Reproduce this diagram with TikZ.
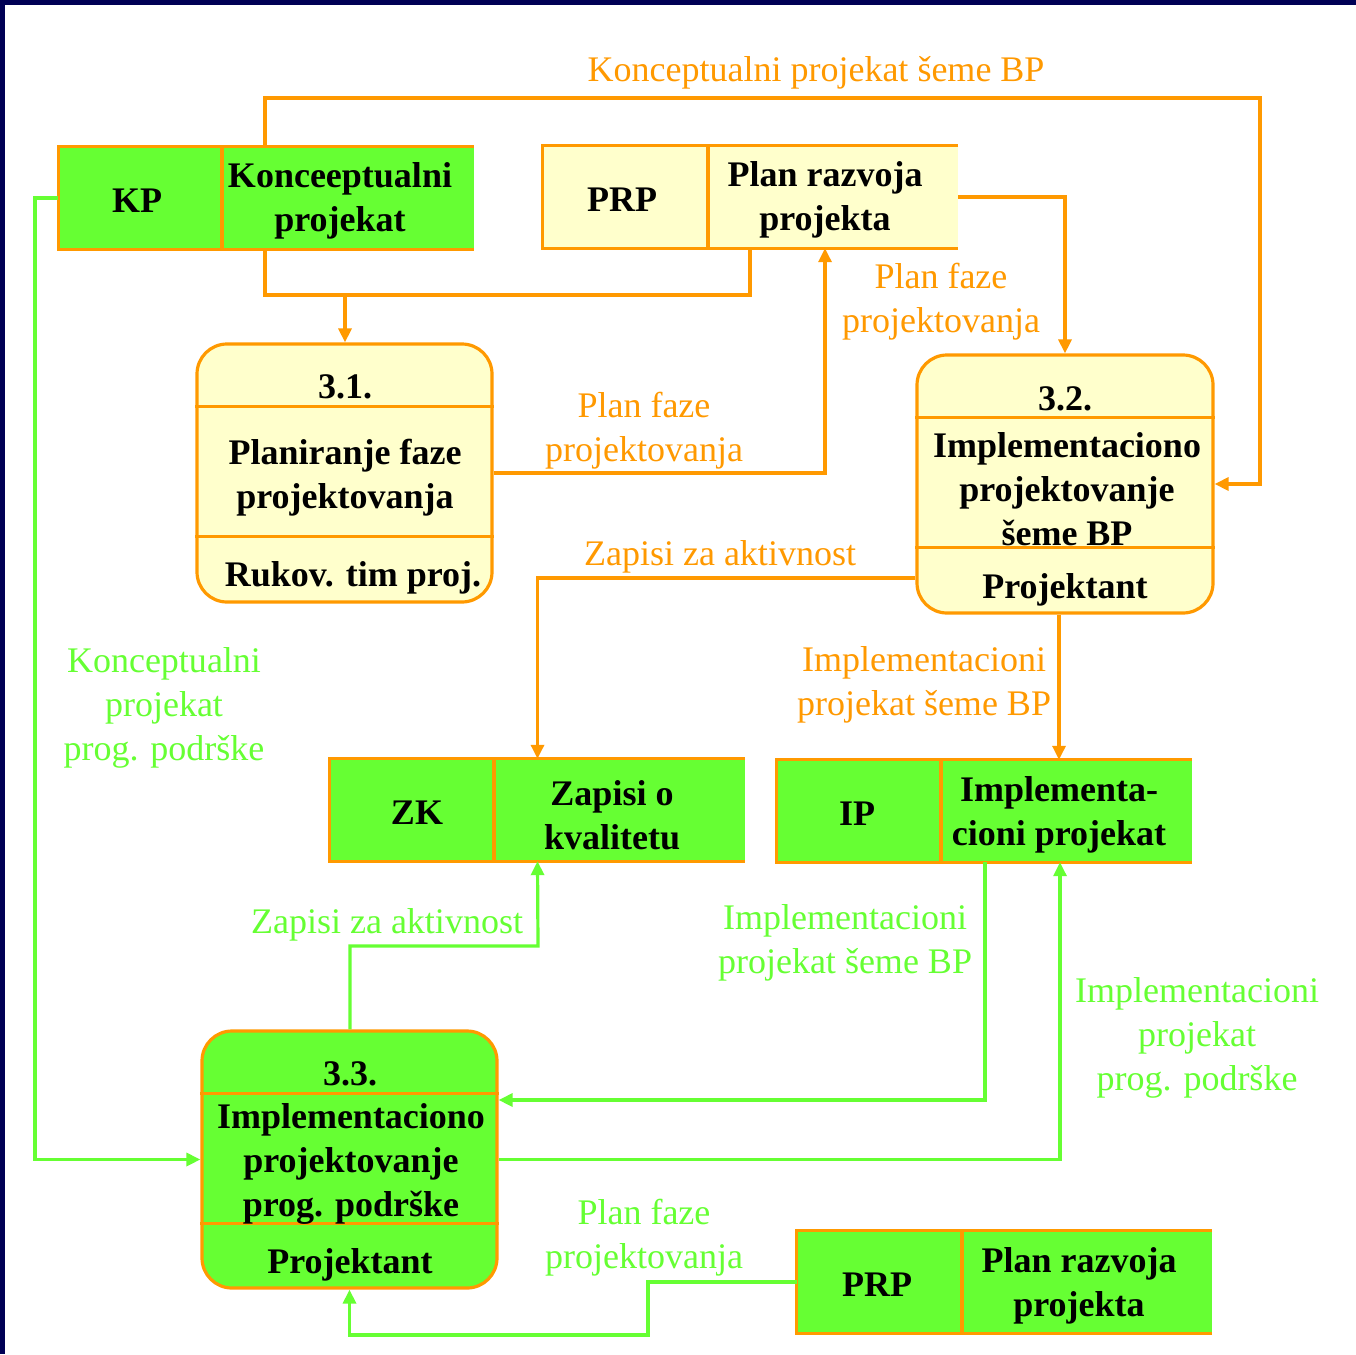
\documentclass[tikz,border=0pt]{standalone}
\usepackage{fontspec}
\setmainfont{Liberation Serif}
\usetikzlibrary{arrows.meta,calc}
\definecolor{org}{HTML}{FF9900}
\definecolor{grn}{HTML}{66FF33}
\definecolor{lyel}{HTML}{FFFFCC}
\definecolor{navy}{HTML}{000055}
\begin{document}
\begin{tikzpicture}[x=1pt,y=-1pt,
  txt/.style={font=\fontsize{36}{44}\selectfont, align=center, inner sep=0, yshift=-3pt},
  btxt/.style={font=\fontsize{36}{44}\selectfont\bfseries, align=center, inner sep=0, text=black, yshift=-3pt},
  olab/.style={txt, text=org},
  glab/.style={txt, text=grn},
  storebox/.style={minimum width=415, minimum height=102, inner sep=0, draw=none},
  procbox/.style={draw=org, line width=3.2, rounded corners=30, minimum width=295, minimum height=258, inner sep=0},
  ol/.style={draw=org, line width=3.2},
  ocon/.style={draw=org, line width=3.2},
  oarr/.style={ocon, -{Triangle[length=14pt,width=13pt]}},
  gcon/.style={draw=grn, line width=3.2},
  garr/.style={gcon, -{Triangle[length=14pt,width=13pt]}}
]
\useasboundingbox (0,0) rectangle (1356,1354);
\fill[white] (0,0) rectangle (1356,1354);
\fill[navy] (0,0) rectangle (1356,5);
\fill[navy] (0,0) rectangle (5,1354);

% ---------- stores ----------
\node[storebox, fill=grn] (kp) at (266,198) {};
\node[storebox, fill=lyel] (prp1) at (750.5,197) {};
\node[storebox, fill=grn] (zk) at (537.5,810) {};
\node[storebox, fill=grn] (ip) at (984.5,811) {};
\node[storebox, fill=grn] (prp2) at (1004.5,1282) {};

\foreach \s/\d in {kp/222, prp1/708, zk/494, ip/941, prp2/962}{
  \draw[ol] (\s.north east) -- (\s.north west) -- (\s.south west) -- (\s.south east);
  \draw[ol] (\d,0 |- \s.north) -- (\d,0 |- \s.south);
}

% ---------- processes ----------
\node[procbox, fill=lyel] (p31) at (344.5,473) {};
\node[procbox, fill=lyel, minimum width=296] (p32) at (1065,484) {};
\node[procbox, fill=grn, minimum height=257] (p33) at (349.5,1159.5) {};
\foreach \p in {p31,p32,p33}{
  \draw[ol] ($(\p.north west)+(0,64)$) -- ($(\p.north east)+(0,64)$);
  \draw[ol] ($(\p.north west)+(0,194)$) -- ($(\p.north east)+(0,194)$);
}

% ---------- node texts ----------
\node[btxt] (tkp1) at (137,198) {KP};
\node[btxt] (tkp2) at (340,198) {Konceeptualni\\projekat};
\node[btxt] (tpr1) at (622,197) {PRP};
\node[btxt] (tpr2) at (825,197) {Plan razvoja\\projekta};
\node[btxt] (t31a) at (345,384) {3.1.};
\node[btxt] (t31b) at (345,475) {Planiranje faze\\projektovanja};
\node[btxt] (t31c) at (353,575) {Rukov. tim proj.};
\node[btxt] (t32a) at (1065,396) {3.2.};
\node[btxt] (t32b) at (1067,486) {Implementaciono\\projektovanje\\šeme BP};
\node[btxt] (t32c) at (1065,587) {Projektant};
\node[btxt] (tzk1) at (417,810) {ZK};
\node[btxt] (tzk2) at (612,812) {Zapisi o\\kvalitetu};
\node[btxt] (tip1) at (857,811) {IP};
\node[btxt] (tip2) at (1059,812) {Implementa-\\cioni projekat};
\node[btxt] (t33a) at (350,1071) {3.3.};
\node[btxt] (t33b) at (351,1161) {Implementaciono\\projektovanje\\prog. podrške};
\node[btxt] (t33c) at (350,1262) {Projektant};
\node[btxt] (tpr3) at (877,1282) {PRP};
\node[btxt] (tpr4) at (1079,1283) {Plan razvoja\\projekta};

% ---------- orange connectors ----------
\draw[oarr] (265,0 |- kp.north) -- (265,98) -- (1260,98) |- (p32.east);
\draw[ocon] (265,0 |- kp.south) |- (750,295) -- (750,0 |- prp1.south);
\coordinate (j1) at (345,295);
\draw[oarr] (j1) -- (345,0 |- p31.north);
\draw[oarr] (p31.east) -| (825,0 |- prp1.south);
\draw[oarr] (prp1.east) -| (p32.north);
\draw[oarr] (p32.west |- 0,578) -| (zk.north);
\draw[oarr] (1059,0 |- p32.south) -- (1059,0 |- ip.north);

% ---------- green connectors ----------
\draw[garr] (kp.west) -| (35,0 |- p33.west) -- (p33.west);
\draw[garr] (350,0 |- p33.north) |- (538,946) -- (zk.south);
\draw[garr] (985,0 |- ip.south) |- (p33.east |- 0,1100);
\draw[garr] (p33.east) -| (1060,0 |- ip.south);
\draw[garr] (prp2.west) -| (648,1335) -| (p33.south);

% ---------- labels ----------
\node[olab] (l1) at (816,70) {Konceptualni projekat šeme BP};
\node[olab] (l2) at (941,299) {Plan faze\\projektovanja};
\node[olab] (l3) at (644,428) {Plan faze\\projektovanja};
\node[olab] (l4) at (720,554) {Zapisi za aktivnost};
\node[olab] (l5) at (924,682) {Implementacioni\\projekat šeme BP};
\node[glab] (l6) at (164,705) {Konceptualni\\projekat\\prog. podrške};
\node[glab] (l7) at (387,922) {Zapisi za aktivnost};
\node[glab] (l8) at (845,940) {Implementacioni\\projekat šeme BP};
\node[glab] (l9) at (1197,1035) {Implementacioni\\projekat\\prog. podrške};
\node[glab] (l10) at (644,1235) {Plan faze\\projektovanja};
\end{tikzpicture}
\end{document}
